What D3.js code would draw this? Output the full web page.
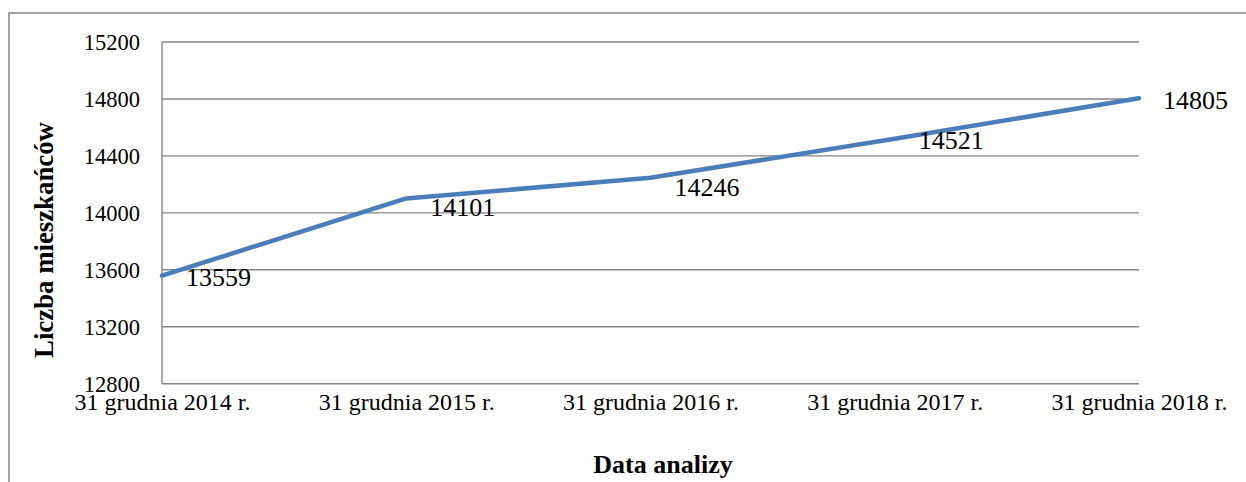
<!DOCTYPE html>
<html><head><meta charset="utf-8">
<script src="https://cdn.jsdelivr.net/npm/d3@7"></script>
<style>body{margin:0;background:#fff}svg{display:block}svg text{font-family:"Liberation Serif","Times New Roman",serif}</style>
</head><body>
<svg id="c" width="1246" height="482"></svg>
<script>
const categories = ["31 grudnia 2014 r.", "31 grudnia 2015 r.", "31 grudnia 2016 r.", "31 grudnia 2017 r.", "31 grudnia 2018 r."];
const values = [13559, 14101, 14246, 14521, 14805];
const yTicks = [12800, 13200, 13600, 14000, 14400, 14800, 15200];
const yTitle = "Liczba mieszkańców";
const xTitle = "Data analizy";
// label vertical nudges (layout)
const labelDy = [1, 8.5, 9, 1.5, 2];

const svg = d3.select("#c");
const font = '"Liberation Serif","Times New Roman",serif';
const L = 162, R = 1139, T = 42, B = 383.7;

svg.append("rect").attr("x", 9).attr("y", 13).attr("width", 1300).attr("height", 600)
  .attr("fill", "none").attr("stroke", "#868686").attr("stroke-width", 1.5);

const x = d3.scalePoint().domain(categories).range([L, R]).padding(0);
const y = d3.scaleLinear().domain([12800, 15200]).range([B, T]);

// grid
svg.append("g").selectAll("line").data(yTicks).join("line")
  .attr("x1", L).attr("x2", R).attr("y1", d => y(d)).attr("y2", d => y(d))
  .attr("stroke", "#868686").attr("stroke-width", 1.4);
// left axis line
svg.append("line").attr("x1", L).attr("x2", L).attr("y1", T).attr("y2", B)
  .attr("stroke", "#868686").attr("stroke-width", 1.4);

// y tick labels
const yAxis = d3.axisLeft(y).tickValues(yTicks).tickSize(0).tickPadding(22).tickFormat(d3.format("d"));
const gy = svg.append("g").attr("transform", `translate(${L},0)`).call(yAxis);
gy.attr("font-family", null).attr("font-size", null);
gy.select(".domain").remove();
gy.selectAll("text").style("font-family", font).style("font-size", "22.5px").attr("fill", "#000").attr("dy", "0.34em");

// x tick labels
const xAxis = d3.axisBottom(x).tickSize(0).tickPadding(0);
const gx = svg.append("g").attr("transform", `translate(0,${B})`).call(xAxis);
gx.attr("font-family", null).attr("font-size", null);
gx.select(".domain").remove();
gx.selectAll("text").style("font-family", font).style("font-size", "24px").attr("fill", "#000")
  .attr("dy", null).attr("y", 26.5);

// line
const line = d3.line().x((d, i) => x(categories[i])).y(d => y(d));
svg.append("path").datum(values).attr("d", line).attr("fill", "none")
  .attr("stroke", "#4a7ebb").attr("stroke-width", 4.5).attr("stroke-linejoin", "round").attr("stroke-linecap", "round");

// data labels
svg.append("g").selectAll("text").data(values).join("text")
  .attr("x", (d, i) => x(categories[i]) + 24)
  .attr("y", (d, i) => y(d) + labelDy[i])
  .attr("dy", "0.35em")
  .style("font-family", font).style("font-size", "26px").attr("fill", "#000")
  .text(d => d);

// titles
svg.append("text").attr("transform", "translate(53,240) rotate(-90)")
  .attr("text-anchor", "middle").style("font-family", font).style("font-size", "26.8px").attr("font-weight", "bold")
  .text(yTitle);
svg.append("text").attr("x", 663).attr("y", 473).attr("text-anchor", "middle")
  .style("font-family", font).style("font-size", "26px").attr("font-weight", "bold")
  .text(xTitle);
</script>
</body></html>
